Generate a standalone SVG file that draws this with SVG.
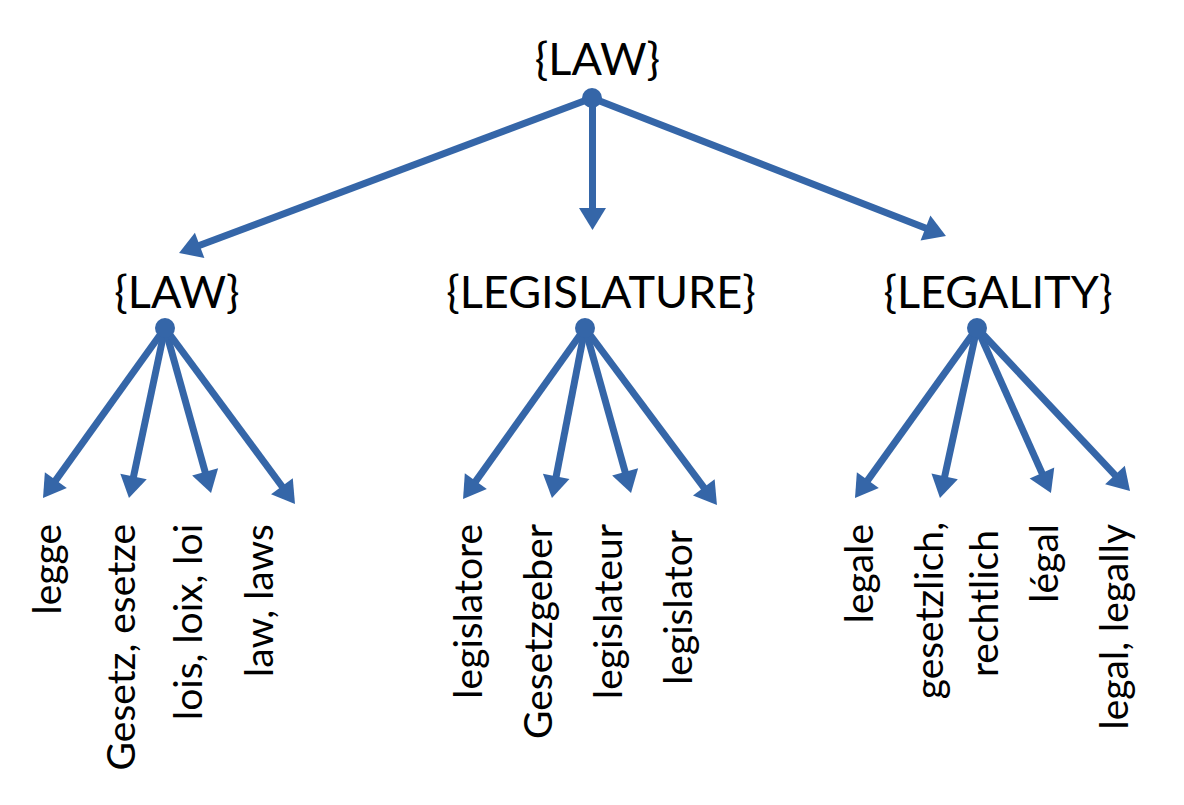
<svg xmlns="http://www.w3.org/2000/svg" width="1184" height="805" viewBox="0 0 1184 805">
<defs>
<style>
.hd{font-family:Lato,"Liberation Sans",sans-serif;font-size:45px;fill:#000;text-anchor:middle}
.lf{font-family:Lato,"Liberation Sans",sans-serif;font-size:39px;fill:#000;text-anchor:end}
.cn line{stroke:#3566A8;stroke-width:7;marker-end:url(#ah)}
.dot{fill:#3566A8}
</style>
<marker id="ah" markerUnits="userSpaceOnUse" markerWidth="22" markerHeight="27" refX="4" refY="13.5" orient="auto" overflow="visible">
<path d="M0,0 L22,13.5 L0,27 z" fill="#3566A8"/>
</marker>
</defs>
<rect width="1184" height="805" fill="#fff"/>
<g id="connectors" class="cn">
<line x1="592" y1="98" x2="195.9" y2="246.7"/>
<line x1="592.5" y1="98" x2="592.5" y2="212"/>
<line x1="592" y1="98" x2="929.2" y2="229.5"/>
<line x1="165" y1="328" x2="53.5" y2="483.4"/>
<line x1="165" y1="328" x2="132.7" y2="480.4"/>
<line x1="165" y1="328" x2="206.2" y2="475.7"/>
<line x1="165" y1="328" x2="284.3" y2="489.5"/>
<line x1="585" y1="328" x2="473.5" y2="484.4"/>
<line x1="585" y1="328" x2="555.4" y2="480.3"/>
<line x1="585" y1="328" x2="626.2" y2="475.7"/>
<line x1="585" y1="328" x2="706.2" y2="490.6"/>
<line x1="977" y1="328" x2="865.5" y2="483.4"/>
<line x1="977" y1="328" x2="943.8" y2="480.4"/>
<line x1="977" y1="328" x2="1043.6" y2="476.6"/>
<line x1="977" y1="328" x2="1117.7" y2="477.9"/>
</g>
<g id="root">
<text class="hd" x="597.5" y="75">{LAW}</text>
<circle class="dot" cx="592" cy="98" r="10"/>
</g>
<g id="law">
<text class="hd" x="177" y="308">{LAW}</text>
<circle class="dot" cx="165" cy="328" r="10"/>
</g>
<g id="legislature">
<text class="hd" x="601" y="308">{LEGISLATURE}</text>
<circle class="dot" cx="585" cy="328" r="10"/>
</g>
<g id="legality">
<text class="hd" x="998" y="308">{LEGALITY}</text>
<circle class="dot" cx="977" cy="328" r="10"/>
</g>
<g id="leaf-legge"><text class="lf" transform="translate(61,524) rotate(-90)">legge</text></g>
<g id="leaf-gesetz"><text class="lf" transform="translate(135,524) rotate(-90)">Gesetz, esetze</text></g>
<g id="leaf-lois"><text class="lf" transform="translate(202,524) rotate(-90)">lois, loix, loi</text></g>
<g id="leaf-law"><text class="lf" transform="translate(273,524) rotate(-90)">law, laws</text></g>
<g id="leaf-legislatore"><text class="lf" transform="translate(482,524) rotate(-90)">legislatore</text></g>
<g id="leaf-gesetzgeber"><text class="lf" transform="translate(552,524) rotate(-90)">Gesetzgeber</text></g>
<g id="leaf-legislateur"><text class="lf" transform="translate(622,524) rotate(-90)">legislateur</text></g>
<g id="leaf-legislator"><text class="lf" transform="translate(692,530) rotate(-90)">legislator</text></g>
<g id="leaf-legale"><text class="lf" transform="translate(873,524) rotate(-90)">legale</text></g>
<g id="leaf-gesetzlich">
<text class="lf" transform="translate(943,522) rotate(-90)">gesetzlich,</text>
<text class="lf" transform="translate(998,530) rotate(-90)">rechtlich</text>
</g>
<g id="leaf-legal-fr"><text class="lf" transform="translate(1058,524) rotate(-90)">légal</text></g>
<g id="leaf-legal-en"><text class="lf" transform="translate(1128,524) rotate(-90)">legal, legally</text></g>
</svg>
